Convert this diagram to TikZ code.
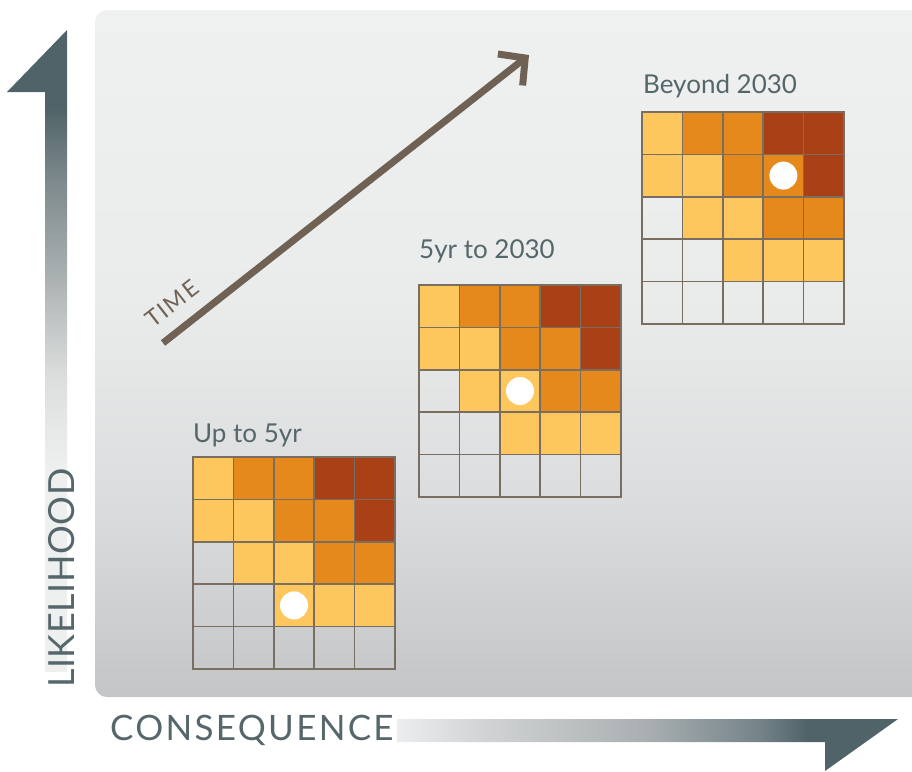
\documentclass[tikz,border=0pt]{standalone}
\usepackage{fontspec}
\setmainfont{Lato}
\usetikzlibrary{arrows.meta}

% palette
\definecolor{slate}{HTML}{4F6368}
\definecolor{labelcol}{HTML}{56676C}
\definecolor{timebrown}{HTML}{6F6254}
\definecolor{gridline}{HTML}{7A6E61}
\definecolor{cy}{HTML}{FEC75E}
\definecolor{co}{HTML}{E6891C}
\definecolor{cr}{HTML}{AA4015}
\definecolor{bgtop}{HTML}{EFF0F0}
\definecolor{bgmid}{HTML}{EAEBEB}
\definecolor{bgmidb}{HTML}{DBDCDD}
\definecolor{bgbot}{HTML}{C4C5C7}
\definecolor{lt}{HTML}{EEF0F0}
\definecolor{la}{HTML}{DCDEDD}
\definecolor{lb}{HTML}{A3AAAB}
\definecolor{lc}{HTML}{7F8B8E}
\definecolor{ha}{HTML}{ECEDEE}
\definecolor{hb}{HTML}{D3D5D6}
\definecolor{hc}{HTML}{A9AFB1}
\definecolor{hd}{HTML}{75848A}

% panel background: light at the top, grey at the bottom
\pgfdeclareverticalshading{panelshade}{100bp}{color(0bp)=(bgbot); color(25bp)=(bgbot);
  color(39bp)=(bgmidb); color(54bp)=(bgmid); color(75bp)=(bgtop); color(100bp)=(bgtop)}
% likelihood axis: dark head fading to white down the shaft
\pgfdeclareverticalshading{likeshade}{100bp}{color(0bp)=(lt); color(41bp)=(lt);
  color(48bp)=(la); color(57bp)=(lb); color(63bp)=(lc); color(69bp)=(slate); color(100bp)=(slate)}
% consequence axis: white fading to a dark head
\pgfdeclarehorizontalshading{conshade}{100bp}{color(0bp)=(ha); color(25bp)=(ha);
  color(33bp)=(hb); color(50bp)=(hc); color(61bp)=(hd); color(66bp)=(slate); color(100bp)=(slate)}

\tikzset{
  axislabel/.style={inner sep=0pt, text=labelcol, font=\fontsize{36}{40}\selectfont},
  gridlabel/.style={inner sep=0pt, anchor=base west, text=labelcol, font=\fontsize{26}{30}\selectfont},
  timelabel/.style={inner sep=0pt, text=timebrown,
    font=\fontsize{23}{26}\selectfont\addfontfeature{LetterSpace=8}},
  timearrow/.style={draw=timebrown, line width=7pt,
    -{Straight Barb[length=19pt, width=40pt, line cap=butt, line join=miter]}},
  gridlines/.style={draw=gridline, line width=1.6pt, line cap=rect},
  pics/riskgrid/.style args={#1/#2}{code={
    \foreach \c/\r/\f in {0/0/cy,1/0/co,2/0/co,3/0/cr,4/0/cr,
                          0/1/cy,1/1/cy,2/1/co,3/1/co,4/1/cr,
                          1/2/cy,2/2/cy,3/2/co,4/2/co,
                          2/3/cy,3/3/cy,4/3/cy}
      \fill[\f] (\c*40.4,\r*42.4) rectangle ++(40.4,42.4);
    \foreach \i in {0,...,5} {
      \path[gridlines] (\i*40.4,0) -- (\i*40.4,212);
      \path[gridlines] (0,\i*42.4) -- (202,\i*42.4);
    }
    \fill[white] (#1*40.4+20.2,#2*42.4+21.2) circle[radius=14pt];
  }}
}

\begin{document}
\begin{tikzpicture}[x=1pt,y=-1pt]
  \useasboundingbox (0,0) rectangle (912,771);
  \clip (0,0) rectangle (912,771);

  % panel
  \path[shading=panelshade, rounded corners=12pt] (95,10) rectangle (935,697);

  % likelihood axis
  \path[shading=likeshade] (67,30) -- (7,92) -- (45,92) -- (45,672) -- (67,672) -- cycle;
  \node[axislabel, rotate=90, anchor=base west, font=\fontsize{36}{40}\selectfont\addfontfeature{LetterSpace=1.5}]
    (likelihood) at (74,688) {LIKELIHOOD};

  % consequence axis
  \path[shading=conshade] (397,719) -- (898,719) -- (825,771) -- (825,742) -- (397,742) -- cycle;
  \node[axislabel, anchor=base west, font=\fontsize{35}{40}\selectfont\addfontfeature{LetterSpace=6.5}]
    (consequence) at (110,740) {CONSEQUENCE};

  % time arrow
  \coordinate (timeStart) at (163,343);
  \coordinate (timeEnd) at (529,55);
  \draw[timearrow] (timeStart) -- (timeEnd);
  \node[timelabel, rotate=38, anchor=base west] (timeText) at (153,329) {TIME};

  % three risk matrices
  \pic at (193,457) {riskgrid={2/3}};
  \pic at (419,285) {riskgrid={2/2}};
  \pic at (642,112) {riskgrid={3/1}};

  \node[gridlabel] (labelA) at (193,442) {Up to 5yr};
  \node[gridlabel] (labelB) at (419,258) {5yr to 2030};
  \node[gridlabel] (labelC) at (643,93) {Beyond 2030};
\end{tikzpicture}
\end{document}
